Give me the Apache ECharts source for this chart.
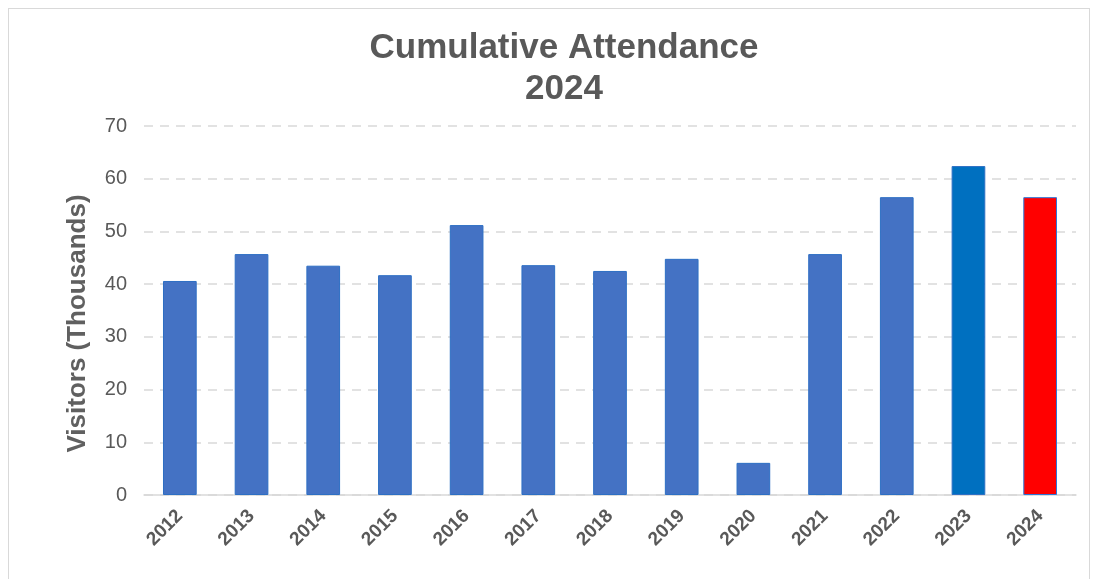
<!DOCTYPE html>
<html><head><meta charset="utf-8">
<script src="https://cdn.jsdelivr.net/npm/echarts@6/dist/echarts.min.js"></script>
<style>html,body{margin:0;padding:0;background:#fff;}#c{width:1099px;height:579px;}
#frame{position:absolute;left:8px;top:8px;width:1082px;height:571px;border:1px solid #d9d9d9;border-bottom:none;box-sizing:border-box;pointer-events:none;}</style>
</head><body><div id="c"></div><div id="frame"></div>
<script>
const years = ['2012','2013','2014','2015','2016','2017','2018','2019','2020','2021','2022','2023','2024'];
const visitors = [40.6, 45.7, 43.5, 41.7, 51.2, 43.6, 42.5, 44.8, 6.1, 45.7, 56.5, 62.4, 56.5];
const barColors = ['#4472C4','#4472C4','#4472C4','#4472C4','#4472C4','#4472C4','#4472C4','#4472C4','#4472C4','#4472C4','#4472C4','#0070C0','#FF0000'];
const yTicks = [0,10,20,30,40,50,60,70];

const chart = echarts.init(document.getElementById('c'));
chart.setOption({
  animation: false,
  title: {
    text: 'Cumulative Attendance\n2024',
    left: 559, top: 23, textAlign: 'center',
    textStyle: {fontFamily: 'Liberation Sans, Arial', fontSize: 35, fontWeight: 'bold', color: '#595959', lineHeight: 41}
  },
  grid: {left: 144, right: 23, top: 126, bottom: 84},
  xAxis: {
    type: 'category', data: years,
    axisLine: {lineStyle: {color: '#d9d9d9', width: 1.5}},
    axisTick: {show: false},
    axisLabel: {rotate: 45, color: '#595959', fontFamily: 'Liberation Sans, Arial', fontSize: 19, fontWeight: 'bold', margin: 18}
  },
  yAxis: {
    type: 'value', min: yTicks[0], max: yTicks[yTicks.length-1], interval: 10,
    name: 'Visitors (Thousands)', nameLocation: 'middle', nameGap: 53,
    nameTextStyle: {color: '#606060', fontFamily: 'Liberation Sans, Arial', fontSize: 26, fontWeight: 'bold', padding: [0, 26, 0, 0]},
    axisLine: {show: false}, axisTick: {show: false},
    axisLabel: {color: '#595959', fontFamily: 'Liberation Sans, Arial', fontSize: 20, margin: 17},
    splitLine: {lineStyle: {color: '#d9d9d9', type: [9, 7], width: 1.5}}
  },
  series: [{
    type: 'bar', barWidth: '47%',
    data: visitors.map((v, i) => ({value: v, itemStyle: {color: barColors[i], borderColor: i === 12 ? '#2E75D6' : '#2D6FC4', borderWidth: 1}}))
  }]
});
</script></body></html>
